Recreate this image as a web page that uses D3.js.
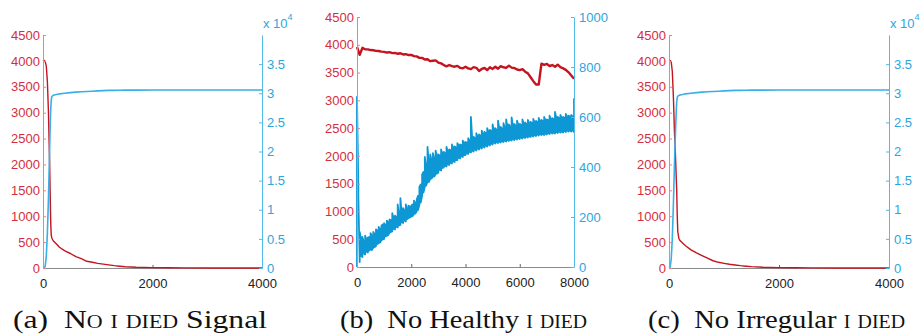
<!DOCTYPE html>
<html>
<head>
<meta charset="utf-8">
<script src="https://cdn.jsdelivr.net/npm/d3@7"></script>
<style>
  body { margin: 0; background: #fff; }
  svg { display: block; }
</style>
</head>
<body>
<svg id="chart" width="920" height="336"></svg>
<script>
// ---- data ----
var leftTicks = [0, 500, 1000, 1500, 2000, 2500, 3000, 3500, 4000, 4500];

// (a) No I DIED Signal
var aX    = [0, 20, 40, 60, 80, 100, 110, 120, 130, 140, 150, 160, 180, 200, 250, 300, 400, 500, 600, 700, 800, 900, 1000, 1100, 1200, 1300, 1400, 1500, 1700, 2000, 2300, 2600, 3000, 3500, 4000];
var aRed  = [4000, 4010, 3990, 3900, 3600, 3000, 2500, 2100, 1500, 900, 640, 580, 540, 510, 460, 400, 330, 280, 220, 180, 130, 110, 90, 75, 60, 45, 35, 25, 15, 8, 4, 2, 1, 0, 0];
var aBlue = [0, 0, 300, 2000, 6000, 12000, 16000, 20000, 24000, 27000, 28800, 29400, 29600, 29700, 29800, 29900, 30000, 30100, 30200, 30250, 30300, 30350, 30400, 30450, 30500, 30500, 30520, 30530, 30540, 30550, 30550, 30550, 30550, 30550, 30550];

// (c) No Irregular I DIED
var cX    = [0, 20, 40, 60, 80, 100, 110, 120, 130, 140, 150, 160, 180, 200, 250, 300, 400, 500, 600, 700, 800, 900, 1000, 1100, 1200, 1300, 1400, 1500, 1700, 2000, 2300, 2600, 3000, 3500, 4000];
var cRed  = [4000, 4010, 3980, 3800, 3300, 2600, 2400, 2100, 1800, 1500, 1000, 700, 570, 530, 480, 430, 350, 290, 240, 190, 140, 110, 90, 72, 58, 45, 35, 26, 15, 8, 4, 2, 1, 0, 0];
var cBlue = [0, 100, 1500, 5000, 11000, 18000, 21000, 24000, 26500, 28500, 29300, 29500, 29600, 29700, 29800, 29900, 30000, 30100, 30200, 30250, 30300, 30350, 30400, 30450, 30500, 30500, 30520, 30530, 30540, 30550, 30550, 30550, 30550, 30550, 30550];

// (b) No Healthy I DIED  (red sampled every 100; blue: low/high of each 50-step bin)
var bRedStep = 100;
var bRed = [3960, 3820, 3945, 3920, 3918, 3905, 3902, 3890, 3888, 3876,
            3872, 3860, 3866, 3850, 3855, 3838, 3848, 3826, 3830, 3815,
            3818, 3796, 3792, 3765, 3764, 3735, 3740, 3705, 3712, 3720,
            3678, 3665, 3635, 3612, 3636, 3615, 3605, 3620, 3585, 3578,
            3605, 3575, 3562, 3598, 3585, 3528, 3565, 3582, 3545, 3595,
            3565, 3605, 3570, 3615, 3595, 3585, 3625, 3588, 3582, 3555,
            3545, 3562, 3515, 3485, 3415, 3345, 3285, 3285, 3660, 3638,
            3655, 3618, 3635, 3605, 3642, 3598, 3575, 3548, 3505, 3448,
            3390];
var bBlueStep = 50;
var bBlueLo = [0, 280, 20, 45, 40, 55, 50, 62, 58, 66,
               70, 68, 78, 80, 84, 92, 95, 98, 108, 110,
               112, 122, 124, 128, 138, 140, 142, 152, 150, 160,
               158, 166, 168, 178, 176, 186, 182, 192, 196, 198,
               202, 204, 212, 214, 222, 228, 248, 258, 285, 298,
               322, 326, 342, 340, 352, 354, 362, 362, 372, 374,
               378, 388, 386, 396, 398, 404, 402, 410, 408, 416,
               414, 422, 420, 428, 428, 436, 434, 442, 440, 448,
               448, 454, 452, 460, 458, 466, 462, 470, 466, 474,
               470, 478, 474, 482, 478, 486, 482, 490, 486, 494,
               490, 498, 494, 500, 496, 502, 498, 504, 500, 506,
               502, 508, 504, 510, 506, 512, 508, 514, 510, 516,
               512, 518, 514, 520, 516, 522, 518, 524, 520, 526,
               522, 528, 524, 530, 526, 532, 528, 532, 528, 534,
               530, 536, 532, 538, 534, 538, 534, 540, 536, 542,
               538, 542, 538, 544, 540, 546, 542, 546, 542, 548,
               540];
var bBlueHi = [680, 320, 140, 110, 120, 100, 125, 110, 118, 120,
               135, 125, 140, 130, 150, 145, 160, 150, 165, 170,
               175, 168, 185, 180, 190, 188, 215, 195, 205, 200,
               250, 210, 275, 215, 235, 225, 250, 230, 245, 240,
               245, 250, 265, 255, 270, 285, 320, 330, 370, 380,
               440, 400, 480, 410, 450, 425, 455, 430, 465, 440,
               450, 445, 470, 450, 460, 455, 480, 460, 470, 468,
               490, 475, 482, 478, 495, 485, 490, 488, 505, 495,
               500, 498, 515, 505, 600, 510, 520, 515, 535, 520,
               530, 525, 545, 530, 540, 535, 555, 540, 548, 545,
               570, 545, 555, 548, 585, 550, 560, 552, 575, 555,
               590, 558, 570, 560, 598, 562, 572, 565, 585, 568,
               572, 568, 590, 570, 578, 572, 588, 575, 580, 576,
               592, 578, 584, 580, 596, 582, 588, 584, 600, 586,
               590, 588, 605, 590, 595, 592, 620, 594, 600, 596,
               608, 596, 600, 598, 612, 600, 605, 602, 608, 602,
               675];

// ---- drawing ----
var svg = d3.select('#chart');
var RED_LINE = '#c4141f', RED_TEXT = '#d42e3e', RED_AXIS = '#e8838d';
var BLUE_TEXT = '#2ba6de', BLUE_AXIS = '#4fbbe8';
var SANS = '13px "Liberation Sans", Arial, Helvetica, sans-serif';

// blue (b): each bin drawn as a stroke from its low to its high value
var bBlue = [];
bBlueLo.forEach(function(lo, i) {
  var pair = [[i * bBlueStep, lo], [i * bBlueStep, bBlueHi[i]]];
  if (i % 2) pair.reverse();
  bBlue.push(pair[0], pair[1]);
});

var panels = [
  { left: 43, right: 262, top: 35, bottom: 268, xMax: 4000, xTicks: [0, 2000, 4000],
    rMax: 40000, rTicks: [0, 5000, 10000, 15000, 20000, 25000, 30000, 35000],
    rFormat: function(d) { return d3.format('')(d / 10000); }, exp: true,
    red: aX.map(function(x, i) { return [x, aRed[i]]; }),
    blue: aX.map(function(x, i) { return [x, aBlue[i]]; }),
    blueColor: '#36b0e6', blueWidth: 1.6, redWidth: 1.4,
    caption: ['No i died', ' Signal'], capLeft: 13, capWidth: 254 },
  { left: 357, right: 574, top: 17, bottom: 267, xMax: 8000, xTicks: [0, 2000, 4000, 6000, 8000],
    rMax: 1000, rTicks: [0, 200, 400, 600, 800, 1000],
    rFormat: d3.format('d'), exp: false,
    red: bRed.map(function(v, i) { return [i * bRedStep, v]; }),
    blue: bBlue,
    blueColor: '#0d97d5', blueWidth: 1.8, redWidth: 2.4,
    caption: ['No Healthy ', 'i died'], capLeft: 340, capWidth: 247 },
  { left: 669, right: 889, top: 35, bottom: 268, xMax: 4000, xTicks: [0, 2000, 4000],
    rMax: 40000, rTicks: [0, 5000, 10000, 15000, 20000, 25000, 30000, 35000],
    rFormat: function(d) { return d3.format('')(d / 10000); }, exp: true,
    red: cX.map(function(x, i) { return [x, cRed[i]]; }),
    blue: cX.map(function(x, i) { return [x, cBlue[i]]; }),
    blueColor: '#36b0e6', blueWidth: 1.6, redWidth: 1.4,
    caption: ['No Irregular ', 'i died'], capLeft: 648, capWidth: 257 }
];

var captionLabels = ['(a)', '(b)', '(c)'];

panels.forEach(function(p, k) {
  var g = svg.append('g');
  var x = d3.scaleLinear().domain([0, p.xMax]).range([p.left, p.right]);
  var yL = d3.scaleLinear().domain([0, 4500]).range([p.bottom, p.top]);
  var yR = d3.scaleLinear().domain([0, p.rMax]).range([p.bottom, p.top]);

  // bottom axis
  var xa = g.append('g').attr('transform', 'translate(0,' + p.bottom + ')')
    .call(d3.axisBottom(x).tickValues(p.xTicks).tickSize(-3).tickSizeOuter(0).tickPadding(11).tickFormat(d3.format('d')));
  xa.select('.domain').attr('stroke', '#8a8a8a');
  xa.selectAll('.tick line').attr('stroke', '#666');
  xa.selectAll('text').attr('fill', '#222').style('font', SANS);

  // lines
  var line = function(sy) {
    return d3.line().x(function(d) { return x(d[0]); }).y(function(d) { return sy(d[1]); });
  };
  g.append('path').datum(p.red).attr('d', line(yL))
    .attr('fill', 'none').attr('stroke', RED_LINE).attr('stroke-width', p.redWidth).attr('stroke-linejoin', 'round');
  g.append('path').datum(p.blue).attr('d', line(yR))
    .attr('fill', 'none').attr('stroke', p.blueColor).attr('stroke-width', p.blueWidth).attr('stroke-linejoin', 'round');

  // left axis
  var la = g.append('g').attr('transform', 'translate(' + p.left + ',0)')
    .call(d3.axisLeft(yL).tickValues(leftTicks).tickSize(-3).tickSizeOuter(0).tickPadding(3).tickFormat(d3.format('d')));
  la.select('.domain').attr('stroke', RED_AXIS);
  la.selectAll('.tick line').attr('stroke', RED_AXIS);
  la.selectAll('text').attr('fill', RED_TEXT).style('font', SANS);

  // right axis
  var ra = g.append('g').attr('transform', 'translate(' + p.right + ',0)')
    .call(d3.axisRight(yR).tickValues(p.rTicks).tickSize(-3).tickSizeOuter(0).tickPadding(5).tickFormat(p.rFormat));
  ra.select('.domain').attr('stroke', BLUE_AXIS);
  ra.selectAll('.tick line').attr('stroke', BLUE_AXIS);
  ra.selectAll('text').attr('fill', BLUE_TEXT).style('font', SANS);

  if (p.exp) {
    var e = g.append('text').attr('x', p.right + 1).attr('y', 28)
      .attr('fill', BLUE_TEXT).style('font', SANS);
    e.append('tspan').text('x 10');
    e.append('tspan').attr('dy', -8).style('font-size', '9px').text('4');
  }

  // caption
  var cap = svg.append('text').attr('x', p.capLeft).attr('y', 328)
    .attr('textLength', p.capWidth).attr('lengthAdjust', 'spacingAndGlyphs')
    .style('font', '26px "Liberation Serif", "Times New Roman", Times, serif').attr('fill', '#111');
  cap.append('tspan').text(captionLabels[k] + '\u00a0\u00a0');
  p.caption.forEach(function(part) {
    var t = cap.append('tspan').text(part);
    if (/i died/.test(part)) t.style('font-variant', 'small-caps');
  });
});
</script>
</body>
</html>
